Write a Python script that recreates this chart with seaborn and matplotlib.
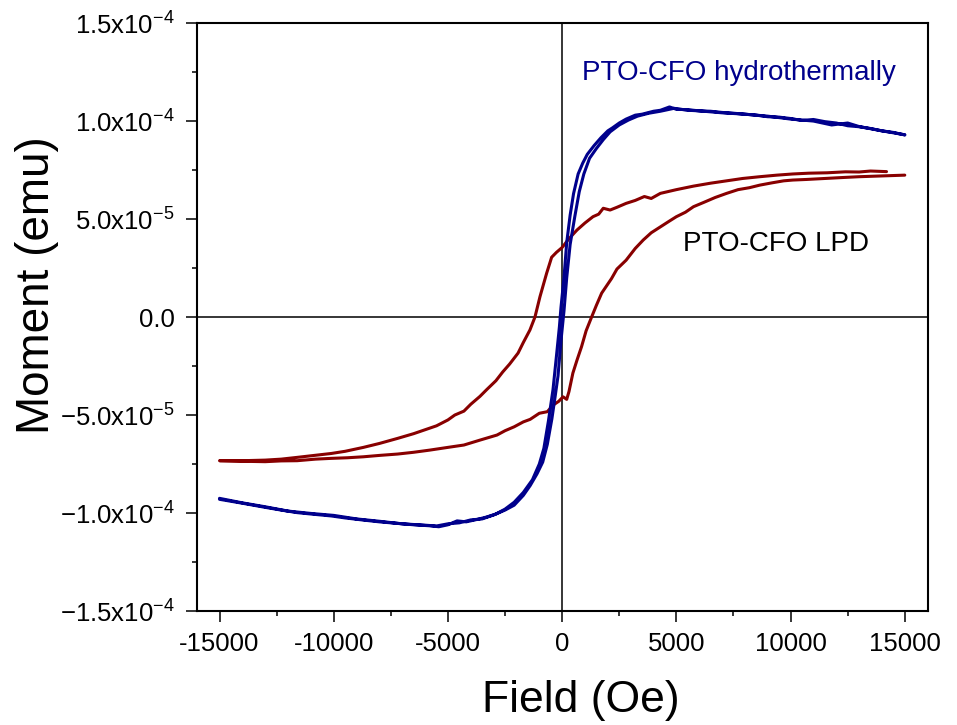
import numpy as np
import pandas as pd
import seaborn as sns
import matplotlib.pyplot as plt
from matplotlib.ticker import MultipleLocator, FuncFormatter

# 磁化ヒステリシスループ (H: Oe, M: 1e-5 emu)
# PTO-CFO hydrothermally : 減少側ブランチ
blue_down_h = [15000, 14500, 14000, 13500, 13000, 12500, 12000, 11500, 11000, 10500,
               10000, 9500, 9000, 8500, 8000, 7500, 7000, 6500, 6000, 5500,
               5000, 4700, 4300, 4000, 3500, 3200, 2800, 2500, 2200, 2000,
               1700, 1400, 1100, 900, 700, 500, 350, 200, 80, -50,
               -120, -250, -400, -600, -800, -1000, -1300, -1700, -2100, -2500,
               -2900, -3300, -3700, -4200, -4600, -5000, -5400, -5800, -6500, -7200,
               -8000, -8700, -9500, -10100, -11000, -11600, -12300, -13000, -14000, -15000]
blue_down_m = [9.29, 9.42, 9.50, 9.62, 9.71, 9.76, 9.90, 9.97, 10.08, 10.03,
               10.13, 10.20, 10.22, 10.30, 10.35, 10.40, 10.44, 10.50, 10.52, 10.58,
               10.60, 10.72, 10.55, 10.50, 10.35, 10.30, 10.10, 9.90, 9.65, 9.50,
               9.15, 8.75, 8.30, 7.85, 7.30, 6.30, 5.20, 3.80, 2.00, 0.50,
               -0.50, -2.00, -3.70, -5.30, -6.70, -7.50, -8.30, -8.95, -9.45, -9.80,
               -10.05, -10.20, -10.32, -10.45, -10.40, -10.60, -10.70, -10.65, -10.60, -10.53,
               -10.45, -10.36, -10.25, -10.15, -10.05, -9.98, -9.85, -9.71, -9.50, -9.30]

# PTO-CFO hydrothermally : 増加側ブランチ
blue_up_h = [-15000, -14000, -13000, -12000, -11000, -10000, -9000, -8000, -7000, -6000,
             -5500, -5000, -4500, -4000, -3500, -3000, -2500, -2100, -1700, -1400,
             -1100, -850, -650, -450, -300, -180, -50, 80, 200, 350,
             550, 750, 950, 1200, 1500, 1800, 2100, 2500, 2900, 3300,
             3800, 4300, 4900, 5500, 6000, 7000, 8000, 9000, 10000, 11000,
             11800, 12500, 13000, 14000, 15000]
blue_up_m = [-9.25, -9.48, -9.68, -9.90, -10.02, -10.12, -10.30, -10.42, -10.55, -10.62,
             -10.66, -10.55, -10.50, -10.35, -10.30, -10.10, -9.85, -9.60, -9.10, -8.60,
             -8.00, -7.40, -6.50, -5.20, -4.00, -3.00, -1.20, 0.30, 2.00, 3.70,
             5.10, 6.40, 7.30, 8.10, 8.60, 9.05, 9.45, 9.80, 10.05, 10.25,
             10.40, 10.50, 10.65, 10.55, 10.52, 10.42, 10.35, 10.25, 10.10, 10.00,
             9.80, 9.90, 9.72, 9.50, 9.30]

# PTO-CFO LPD : 減少側ブランチ
red_down_h = [14200, 13500, 13000, 12400, 11600, 10800, 10100, 9400, 8650, 7900,
              7200, 6500, 5750, 5000, 4300, 3900, 3600, 3200, 2800, 2400,
              2100, 1800, 1600, 1350, 1000, 650, 300, 0, -250, -460,
              -680, -970, -1190, -1410, -1700, -1930, -2300, -2600, -2900,
              -3300, -3600, -4000, -4300, -4700, -5000, -5500, -6000, -6500, -7200,
              -8000, -8700, -9500, -10100, -11000, -11600, -12300, -13000, -14000, -15000]
red_down_m = [7.42, 7.45, 7.40, 7.41, 7.36, 7.34, 7.30, 7.24, 7.16, 7.07,
              6.95, 6.83, 6.68, 6.50, 6.31, 6.05, 6.15, 5.95, 5.80, 5.60,
              5.46, 5.55, 5.25, 5.12, 4.80, 4.44, 4.00, 3.55, 3.30, 3.05,
              2.23, 1.04, 0.00, -0.66, -1.30, -1.84, -2.40, -2.80, -3.25,
              -3.70, -4.05, -4.45, -4.80, -5.00, -5.25, -5.55, -5.75, -5.95, -6.19,
              -6.45, -6.65, -6.85, -6.96, -7.08, -7.16, -7.25, -7.30, -7.33, -7.33]

# PTO-CFO LPD : 増加側ブランチ
red_up_h = [-15000, -14000, -13000, -12300, -11600, -10800, -10100, -9400, -8700, -8000,
            -7200, -6500, -5800, -5000, -4300, -3600, -2850, -2500, -2100, -1700,
            -1400, -1000, -650, -390, -150, 40, 200, 300, 470, 650,
            850, 1050, 1290, 1500, 1730, 2160, 2400, 2800, 3200, 3550,
            3900, 4300, 4700, 5000, 5400, 5750, 6200, 6700, 7200, 7700,
            8200, 8650, 9200, 9700, 10100, 10700, 11500, 12300, 13000, 14000, 15000]
red_up_m = [-7.33, -7.36, -7.38, -7.34, -7.33, -7.25, -7.21, -7.18, -7.13, -7.06,
            -6.99, -6.90, -6.79, -6.65, -6.53, -6.28, -6.02, -5.80, -5.60, -5.35,
            -5.22, -4.91, -4.83, -4.49, -4.30, -4.07, -4.20, -3.80, -2.86, -2.20,
            -1.51, -0.70, 0.00, 0.60, 1.22, 1.96, 2.45, 2.90, 3.50, 3.93,
            4.30, 4.60, 4.90, 5.12, 5.35, 5.63, 5.85, 6.10, 6.31, 6.50,
            6.60, 6.73, 6.85, 6.95, 6.99, 7.02, 7.07, 7.12, 7.16, 7.20, 7.24]

unit = 1e-5  # emu

blue = pd.DataFrame({"H": blue_down_h + blue_up_h,
                     "M": np.array(blue_down_m + blue_up_m) * unit})
red = pd.DataFrame({"H": red_down_h + red_up_h,
                    "M": np.array(red_down_m + red_up_m) * unit})

sns.set_style("ticks")
plt.rcParams["font.family"] = ["Liberation Sans", "DejaVu Sans"]
plt.rcParams["mathtext.fontset"] = "custom"
plt.rcParams["mathtext.rm"] = "Liberation Sans"
plt.rcParams["mathtext.it"] = "Liberation Sans"
plt.rcParams["mathtext.default"] = "regular"
for k in ["text.color", "axes.labelcolor", "xtick.color", "ytick.color"]:
    plt.rcParams[k] = "black"

fig = plt.figure(figsize=(9.57, 7.25), dpi=100)
ax = fig.add_axes([0.2055, 0.1572, 0.7638, 0.811])

ax.axhline(0, color="black", lw=1.1, zorder=1)
ax.axvline(0, color="black", lw=1.1, zorder=1)

sns.lineplot(data=red, x="H", y="M", sort=False, estimator=None,
             color="#880000", linewidth=2.2, ax=ax, zorder=2)
sns.lineplot(data=blue, x="H", y="M", sort=False, estimator=None,
             color="#00008C", linewidth=2.2, ax=ax, zorder=3)

ax.set_xlim(-16000, 16000)
ax.set_ylim(-1.5e-4, 1.5e-4)

ax.xaxis.set_major_locator(MultipleLocator(5000))
ax.xaxis.set_minor_locator(MultipleLocator(2500))
ax.yaxis.set_major_locator(MultipleLocator(5e-5))
ax.yaxis.set_minor_locator(MultipleLocator(2.5e-5))


def sci_fmt(v, pos):
    if abs(v) < 1e-12:
        return "0.0"
    e = int(np.floor(np.log10(abs(v)) + 1e-9))
    m = v / 10 ** e
    return r"$%.1fx10^{%d}$" % (m, e)


ax.yaxis.set_major_formatter(FuncFormatter(sci_fmt))
ax.xaxis.set_major_formatter(FuncFormatter(lambda v, p: "%d" % v))

ax.tick_params(which="major", direction="out", length=8, width=1.1,
               labelsize=18.5, top=False, right=False)
ax.tick_params(which="minor", direction="out", length=3.8, width=1.1,
               top=False, right=False)
ax.tick_params(axis="y", which="major", pad=8)
ax.tick_params(axis="x", which="major", pad=7)

for s in ax.spines.values():
    s.set_linewidth(1.5)
    s.set_color("black")

ax.set_xlabel("Field (Oe)", fontsize=32, va="center")
ax.set_ylabel("Moment (emu)", fontsize=33, va="center")
ax.xaxis.set_label_coords(0.526, -0.153)
ax.yaxis.set_label_coords(-0.219, 0.554)

ax.text(880, 12.09e-5, "PTO-CFO hydrothermally", color="#00008C",
        fontsize=20, ha="left", va="baseline")
ax.text(5270, 3.38e-5, "PTO-CFO LPD", color="black",
        fontsize=20, ha="left", va="baseline")

fig.savefig("out.png", dpi=100)
